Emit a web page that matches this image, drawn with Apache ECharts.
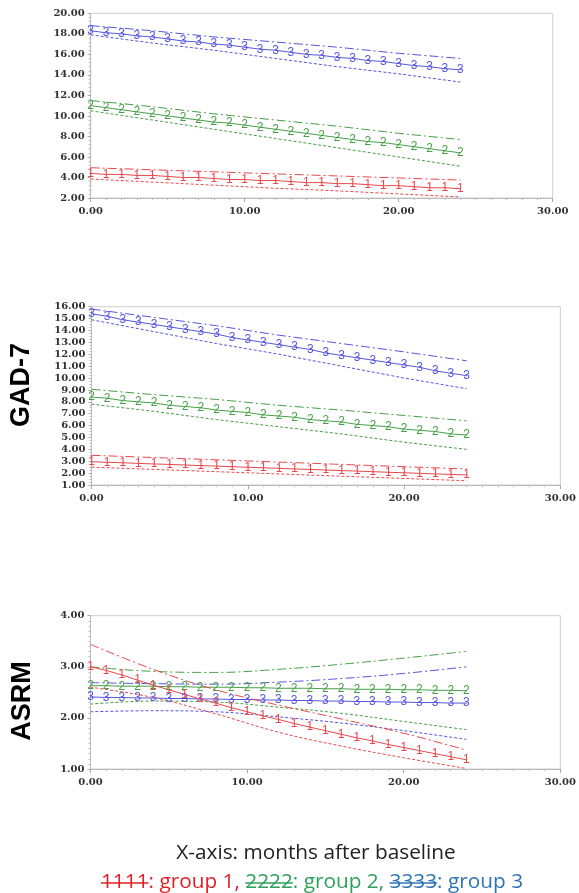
<!DOCTYPE html>
<html>
<head>
<meta charset="utf-8">
<script src="https://cdn.jsdelivr.net/npm/echarts@6/dist/echarts.min.js"></script>
<style>
  html, body { margin: 0; padding: 0; background: #fff; }
  #chart { width: 579px; height: 893px; }
</style>
</head>
<body>
<div id="chart"></div>
<script>
// months after baseline (markers at every month), CI lines read every 4 months
const months = [0, 1, 2, 3, 4, 5, 6, 7, 8, 9, 10, 11, 12, 13, 14, 15, 16, 17, 18, 19, 20, 21, 22, 23, 24]
const ciMonths = [0, 4, 8, 12, 16, 20, 24]

// top panel
const top_g1 = [4.4, 4.3, 4.3, 4.2, 4.2, 4.1, 4.0, 4.0, 3.9, 3.8, 3.8, 3.7, 3.7, 3.6, 3.5, 3.5, 3.4, 3.4, 3.3, 3.2, 3.2, 3.1, 3.0, 3.0, 2.9]
const top_g1_hi = [4.95, 4.75, 4.55, 4.35, 4.15, 3.95, 3.75]
const top_g1_lo = [3.85, 3.55, 3.25, 2.95, 2.7, 2.4, 2.1]
const top_g2 = [11.0, 10.8, 10.6, 10.4, 10.2, 10.0, 9.8, 9.6, 9.4, 9.3, 9.1, 8.9, 8.7, 8.5, 8.3, 8.1, 7.9, 7.7, 7.5, 7.4, 7.2, 7.0, 6.8, 6.6, 6.4]
const top_g2_hi = [11.5, 10.9, 10.2, 9.6, 9.0, 8.3, 7.7]
const top_g2_lo = [10.5, 9.6, 8.7, 7.8, 6.9, 6.0, 5.1]
const top_g3 = [18.3, 18.1, 18.0, 17.8, 17.7, 17.5, 17.3, 17.2, 17.0, 16.9, 16.7, 16.5, 16.4, 16.2, 16.0, 15.9, 15.7, 15.6, 15.4, 15.3, 15.1, 14.9, 14.8, 14.6, 14.5]
const top_g3_hi = [18.8, 18.3, 17.7, 17.2, 16.7, 16.1, 15.6]
const top_g3_lo = [17.9, 17.1, 16.4, 15.6, 14.8, 14.1, 13.3]

// GAD-7
const gad_g1 = [2.96, 2.91, 2.87, 2.82, 2.77, 2.73, 2.68, 2.63, 2.59, 2.54, 2.49, 2.45, 2.40, 2.35, 2.31, 2.26, 2.21, 2.17, 2.12, 2.07, 2.03, 1.98, 1.93, 1.89, 1.84]
const gad_g1_hi = [3.50, 3.31, 3.12, 2.93, 2.73, 2.54, 2.35]
const gad_g1_lo = [2.50, 2.31, 2.12, 1.93, 1.74, 1.55, 1.36]
const gad_g2 = [8.4, 8.3, 8.1, 8.0, 7.9, 7.7, 7.6, 7.5, 7.3, 7.2, 7.1, 6.9, 6.8, 6.7, 6.5, 6.4, 6.3, 6.1, 6.0, 5.9, 5.7, 5.6, 5.5, 5.3, 5.2]
const gad_g2_hi = [9.05, 8.6, 8.2, 7.7, 7.3, 6.85, 6.4]
const gad_g2_lo = [7.8, 7.2, 6.5, 5.9, 5.3, 4.6, 4.0]
const gad_g3 = [15.4, 15.2, 14.9, 14.7, 14.5, 14.3, 14.1, 13.9, 13.7, 13.4, 13.2, 13.0, 12.8, 12.6, 12.4, 12.1, 11.9, 11.7, 11.5, 11.3, 11.1, 10.9, 10.6, 10.4, 10.2]
const gad_g3_hi = [15.8, 15.1, 14.4, 13.6, 12.9, 12.2, 11.45]
const gad_g3_lo = [14.9, 13.9, 12.9, 12.0, 11.0, 10.0, 9.1]

// ASRM
const asrm_g1 = [3.00, 2.93, 2.84, 2.74, 2.64, 2.55, 2.46, 2.37, 2.29, 2.20, 2.12, 2.04, 1.97, 1.89, 1.82, 1.75, 1.68, 1.61, 1.55, 1.48, 1.42, 1.36, 1.30, 1.24, 1.18]
const asrm_g1_hi = [3.44, 2.95, 2.55, 2.25, 1.98, 1.70, 1.37]
const asrm_g1_lo = [2.60, 2.40, 2.08, 1.72, 1.45, 1.22, 1.01]
const asrm_g2 = [2.63, 2.63, 2.62, 2.62, 2.62, 2.61, 2.61, 2.60, 2.60, 2.60, 2.59, 2.59, 2.58, 2.58, 2.58, 2.57, 2.57, 2.56, 2.56, 2.56, 2.55, 2.55, 2.54, 2.54, 2.53]
const asrm_g2_hi = [3.00, 2.91, 2.89, 2.95, 3.05, 3.17, 3.30]
const asrm_g2_lo = [2.27, 2.33, 2.31, 2.21, 2.09, 1.93, 1.77]
const asrm_g3 = [2.41, 2.40, 2.40, 2.39, 2.39, 2.38, 2.38, 2.37, 2.37, 2.36, 2.36, 2.35, 2.35, 2.34, 2.34, 2.33, 2.33, 2.32, 2.32, 2.31, 2.31, 2.30, 2.30, 2.29, 2.29]
const asrm_g3_hi = [2.69, 2.67, 2.66, 2.70, 2.77, 2.87, 3.00]
const asrm_g3_lo = [2.12, 2.14, 2.12, 2.02, 1.90, 1.75, 1.58]

const panelLabels = ['', 'GAD-7', 'ASRM']
const footerTitle = 'X-axis: months after baseline'
const footerParts = [
  ['1111', 'red', true], [': group 1, ', 'red', false],
  ['2222', 'green', true], [': group 2, ', 'green', false],
  ['3333', 'blue', true], [': group 3', 'blue', false],
]

const lineColors = { red: '#e8484c', green: '#45a045', blue: '#5656dc' }
const textColors = { red: '#e21f26', green: '#2ea05a', blue: '#2e74b5' }

const pairs = (xs, ys) => xs.map((x, i) => [x, ys[i]])

function group(gi, mid, hi, lo, color, digit, smooth) {
  const base = { type: 'line', xAxisIndex: gi, yAxisIndex: gi, silent: true, animation: false }
  return [
    Object.assign({}, base, {
      data: pairs(months, mid),
      symbol: 'circle', symbolSize: 1, showSymbol: true,
      itemStyle: { color: color },
      lineStyle: { color: color, width: 1 },
      label: { show: true, position: 'inside', formatter: digit, color: color, fontSize: 12, fontFamily: 'Liberation Sans' },
    }),
    Object.assign({}, base, {
      data: pairs(ciMonths, hi), showSymbol: false, smooth: smooth,
      lineStyle: { color: color, width: 1, type: [9, 3, 2, 3] },
    }),
    Object.assign({}, base, {
      data: pairs(ciMonths, lo), showSymbol: false, smooth: smooth,
      lineStyle: { color: color, width: 1, type: [3, 2] },
    }),
  ]
}

const labelFont = { fontFamily: 'DejaVu Serif', fontWeight: 'bold', fontSize: 10, color: '#333' }

function xAx(gi) {
  return {
    type: 'value', gridIndex: gi, min: 0, max: 30, interval: 10,
    axisLine: { show: true, onZero: false, lineStyle: { color: '#bbb' } },
    axisTick: { show: true, length: 4, lineStyle: { color: '#aaa' } },
    minorTick: { show: true, splitNumber: 10, length: 2, lineStyle: { color: '#bbb' } },
    splitLine: { show: false },
    axisLabel: Object.assign({ formatter: (v) => v.toFixed(2), margin: 8 }, labelFont),
  }
}
function yAx(gi, min, max, interval, minorSplit) {
  return {
    type: 'value', gridIndex: gi, min: min, max: max, interval: interval,
    axisLine: { show: true, onZero: false, lineStyle: { color: '#bbb' } },
    axisTick: { show: true, length: 3, lineStyle: { color: '#aaa' } },
    minorTick: { show: true, splitNumber: minorSplit, length: 2, lineStyle: { color: '#bbb' } },
    splitLine: { show: false },
    axisLabel: Object.assign({ formatter: (v) => v.toFixed(2), margin: 6 }, labelFont),
  }
}

const gridStyle = { show: true, borderColor: '#cfcfcf', borderWidth: 1, containLabel: false }

// footer: measure text so strike-through lines sit on the digit runs
const footFont = '20.8px "Open Sans"'
const mctx = document.createElement('canvas').getContext('2d')
mctx.font = footFont
const widths = footerParts.map((p) => mctx.measureText(p[0]).width)
const total = widths.reduce((a, b) => a + b, 0)
const footGraphics = []
let fx = 312 - total / 2
const fy = 882
footerParts.forEach((p, i) => {
  footGraphics.push({
    type: 'text', x: fx, y: fy,
    style: { text: p[0], font: footFont, fill: textColors[p[1]], align: 'left', verticalAlign: 'middle' },
  })
  if (p[2]) {
    footGraphics.push({
      type: 'line',
      shape: { x1: fx, y1: fy + 1, x2: fx + widths[i], y2: fy + 1 },
      style: { stroke: textColors[p[1]], lineWidth: 1.4 },
    })
  }
  fx += widths[i]
})

const option = {
  backgroundColor: '#fff',
  animation: false,
  grid: [
    Object.assign({ left: 90.7, top: 13.3, width: 462, height: 184.7 }, gridStyle),
    Object.assign({ left: 91.5, top: 306.7, width: 470.5, height: 178.3 }, gridStyle),
    Object.assign({ left: 90.5, top: 615.7, width: 471, height: 153.3 }, gridStyle),
  ],
  xAxis: [xAx(0), xAx(1), xAx(2)],
  yAxis: [yAx(0, 2, 20, 2, 5), yAx(1, 1, 16, 1, 4), yAx(2, 1, 4, 1, 10)],
  series: [].concat(
    group(0, top_g3, top_g3_hi, top_g3_lo, lineColors.blue, '3', false),
    group(0, top_g2, top_g2_hi, top_g2_lo, lineColors.green, '2', false),
    group(0, top_g1, top_g1_hi, top_g1_lo, lineColors.red, '1', false),
    group(1, gad_g3, gad_g3_hi, gad_g3_lo, lineColors.blue, '3', false),
    group(1, gad_g2, gad_g2_hi, gad_g2_lo, lineColors.green, '2', false),
    group(1, gad_g1, gad_g1_hi, gad_g1_lo, lineColors.red, '1', false),
    group(2, asrm_g3, asrm_g3_hi, asrm_g3_lo, lineColors.blue, '3', 0.4),
    group(2, asrm_g2, asrm_g2_hi, asrm_g2_lo, lineColors.green, '2', 0.4),
    group(2, asrm_g1, asrm_g1_hi, asrm_g1_lo, lineColors.red, '1', 0.4)
  ),
  graphic: [
    {
      type: 'text', x: 22, y: 385, rotation: Math.PI / 2,
      style: { text: panelLabels[1], font: 'bold 27px "Liberation Sans"', fill: '#000', align: 'center', verticalAlign: 'middle' },
    },
    {
      type: 'text', x: 23, y: 701, rotation: Math.PI / 2,
      style: { text: panelLabels[2], font: 'bold 27px "Liberation Sans"', fill: '#000', align: 'center', verticalAlign: 'middle' },
    },
    {
      type: 'text', x: 316, y: 853,
      style: { text: footerTitle, font: footFont, fill: '#222', align: 'center', verticalAlign: 'middle' },
    },
  ].concat(footGraphics),
}

const chart = echarts.init(document.getElementById('chart'))
chart.setOption(option)
window.addEventListener('resize', function () {
  chart.resize()
})
</script>
</body>
</html>
